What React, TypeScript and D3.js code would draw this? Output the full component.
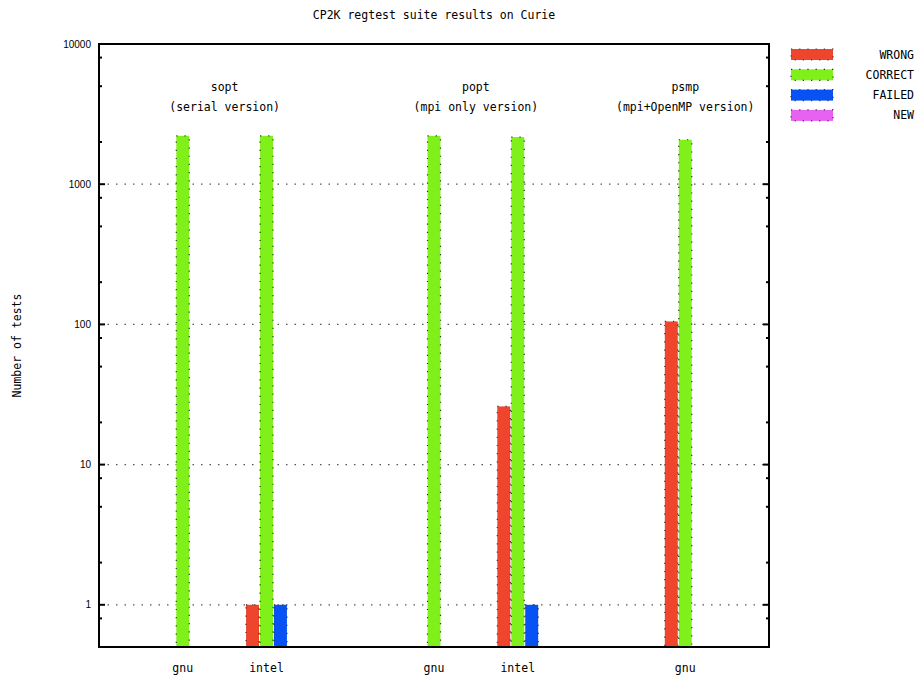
import { useEffect, useRef } from "react";
import * as d3 from "d3";

// x positions of each build (gnuplot histogram slots)
const slots = [0, 1, 3, 4, 6];
const compilers = ["gnu", "intel", "gnu", "intel", "gnu"];

// test counts per build, null where no bar is drawn
const wrong = [null, 1, null, 26, 105];
const correct = [2213, 2213, 2213, 2168, 2075];
const failed = [null, 1, null, 1, null];
const newTests = [null, null, null, null, null];

const seriesNames = ["WRONG", "CORRECT", "FAILED", "NEW"];
const seriesColors = ["#f0452d", "#80f01a", "#0652f5", "#e862f2"];

const groups = [
  { x: 0.5, name: "sopt", desc: "(serial version)" },
  { x: 3.5, name: "popt", desc: "(mpi only version)" },
  { x: 6, name: "psmp", desc: "(mpi+OpenMP version)" },
];

const yTicks = [1, 10, 100, 1000, 10000];

function App() {
  const ref = useRef<SVGSVGElement>(null);

  useEffect(() => {
    if (!ref.current) return;
    const svg = d3.select(ref.current);
    svg.selectAll("*").remove();

    const left = 99;
    const right = 769;
    const top = 44;
    const bottom = 647;
    const mono = "'DejaVu Sans Mono', monospace";
    const sans = "'Liberation Sans', Arial, sans-serif";
    const fs = "11.5px";

    const x = d3.scaleLinear().domain([-1, 7]).range([left, right]);
    const y = d3.scaleLog().domain([0.5, 10000]).range([bottom, top]);
    const barW = x(1 / 6) - x(0);

    // 网格线
    svg
      .append("g")
      .selectAll("line")
      .data(yTicks.slice(0, -1))
      .enter()
      .append("line")
      .attr("x1", left)
      .attr("x2", right)
      .attr("y1", (d) => y(d))
      .attr("y2", (d) => y(d))
      .attr("stroke", "#555")
      .attr("stroke-width", 1.2)
      .attr("stroke-dasharray", "1.5,7");

    // 柱子
    const series = [wrong, correct, failed, newTests];
    series.forEach((vals, si) => {
      const offset = (si - 1) / 6;
      svg
        .append("g")
        .selectAll("rect")
        .data(vals.map((v, i) => ({ v, s: slots[i] })).filter((d) => d.v != null))
        .enter()
        .append("rect")
        .attr("x", (d) => x(d.s + offset) - barW / 2 + 0.5)
        .attr("width", barW - 1)
        .attr("y", (d) => y(d.v as number))
        .attr("height", (d) => bottom - y(d.v as number))
        .attr("fill", seriesColors[si])
        .attr("stroke", "#333")
        .attr("stroke-width", 1.2)
        .attr("stroke-dasharray", "1.2,7");
    });

    // 坐标框
    svg
      .append("rect")
      .attr("x", left)
      .attr("y", top)
      .attr("width", right - left)
      .attr("height", bottom - top)
      .attr("fill", "none")
      .attr("stroke", "#000")
      .attr("stroke-width", 2);

    // 刻度
    const minor: number[] = [];
    [0.1, 1, 10, 100, 1000].forEach((dec) =>
      [2, 5, 8].forEach((m) => {
        const v = dec * m;
        if (v > 0.5 && v < 10000) minor.push(v);
      })
    );
    const tickG = svg.append("g").attr("stroke", "#000").attr("stroke-width", 2);
    yTicks.forEach((t) => {
      tickG.append("line").attr("x1", left).attr("x2", left + 6).attr("y1", y(t)).attr("y2", y(t));
      tickG.append("line").attr("x1", right - 6).attr("x2", right).attr("y1", y(t)).attr("y2", y(t));
    });
    minor.forEach((t) => {
      tickG.append("line").attr("x1", left).attr("x2", left + 3).attr("y1", y(t)).attr("y2", y(t));
      tickG.append("line").attr("x1", right - 3).attr("x2", right).attr("y1", y(t)).attr("y2", y(t));
    });

    svg
      .append("g")
      .selectAll("text")
      .data(yTicks)
      .enter()
      .append("text")
      .attr("x", left - 8)
      .attr("y", (d) => y(d))
      .attr("dy", "0.35em")
      .attr("text-anchor", "end")
      .style("font-family", sans)
      .style("font-size", "10px")
      .text((d) => String(d));

    // x 轴标签
    svg
      .append("g")
      .selectAll("text")
      .data(compilers)
      .enter()
      .append("text")
      .attr("x", (_, i) => x(slots[i]))
      .attr("y", 672)
      .attr("text-anchor", "middle")
      .style("font-family", mono)
      .style("font-size", fs)
      .text((d) => d);

    // 分组标注
    groups.forEach((g) => {
      svg
        .append("text")
        .attr("x", x(g.x))
        .attr("y", 91)
        .attr("text-anchor", "middle")
        .style("font-family", mono)
        .style("font-size", fs)
        .text(g.name);
      svg
        .append("text")
        .attr("x", x(g.x))
        .attr("y", 111)
        .attr("text-anchor", "middle")
        .style("font-family", mono)
        .style("font-size", fs)
        .text(g.desc);
    });

    // 标题
    svg
      .append("text")
      .attr("x", (left + right) / 2)
      .attr("y", 19)
      .attr("text-anchor", "middle")
      .style("font-family", mono)
      .style("font-size", fs)
      .text("CP2K regtest suite results on Curie");

    svg
      .append("text")
      .attr("transform", `translate(21, ${(top + bottom) / 2}) rotate(-90)`)
      .attr("text-anchor", "middle")
      .style("font-family", mono)
      .style("font-size", "11.5px")
      .text("Number of tests");

    // 图例
    const legend = svg
      .append("g")
      .selectAll("g")
      .data(seriesNames)
      .enter()
      .append("g")
      .attr("transform", (_, i) => `translate(0, ${54.5 + i * 20.3})`);
    legend
      .append("rect")
      .attr("x", 791)
      .attr("y", -5.5)
      .attr("width", 42)
      .attr("height", 11)
      .attr("fill", (_, i) => seriesColors[i])
      .attr("stroke", "#333")
      .attr("stroke-width", 1.2)
      .attr("stroke-dasharray", "1.2,7");
    legend
      .append("text")
      .attr("x", 914)
      .attr("dy", "0.35em")
      .attr("text-anchor", "end")
      .style("font-family", mono)
      .style("font-size", fs)
      .text((d) => d);
  }, []);

  return (
    <svg
      ref={ref}
      width={918}
      height={679}
      style={{ position: "absolute", left: 0, top: 0, background: "#fff" }}
    />
  );
}

export default App;
